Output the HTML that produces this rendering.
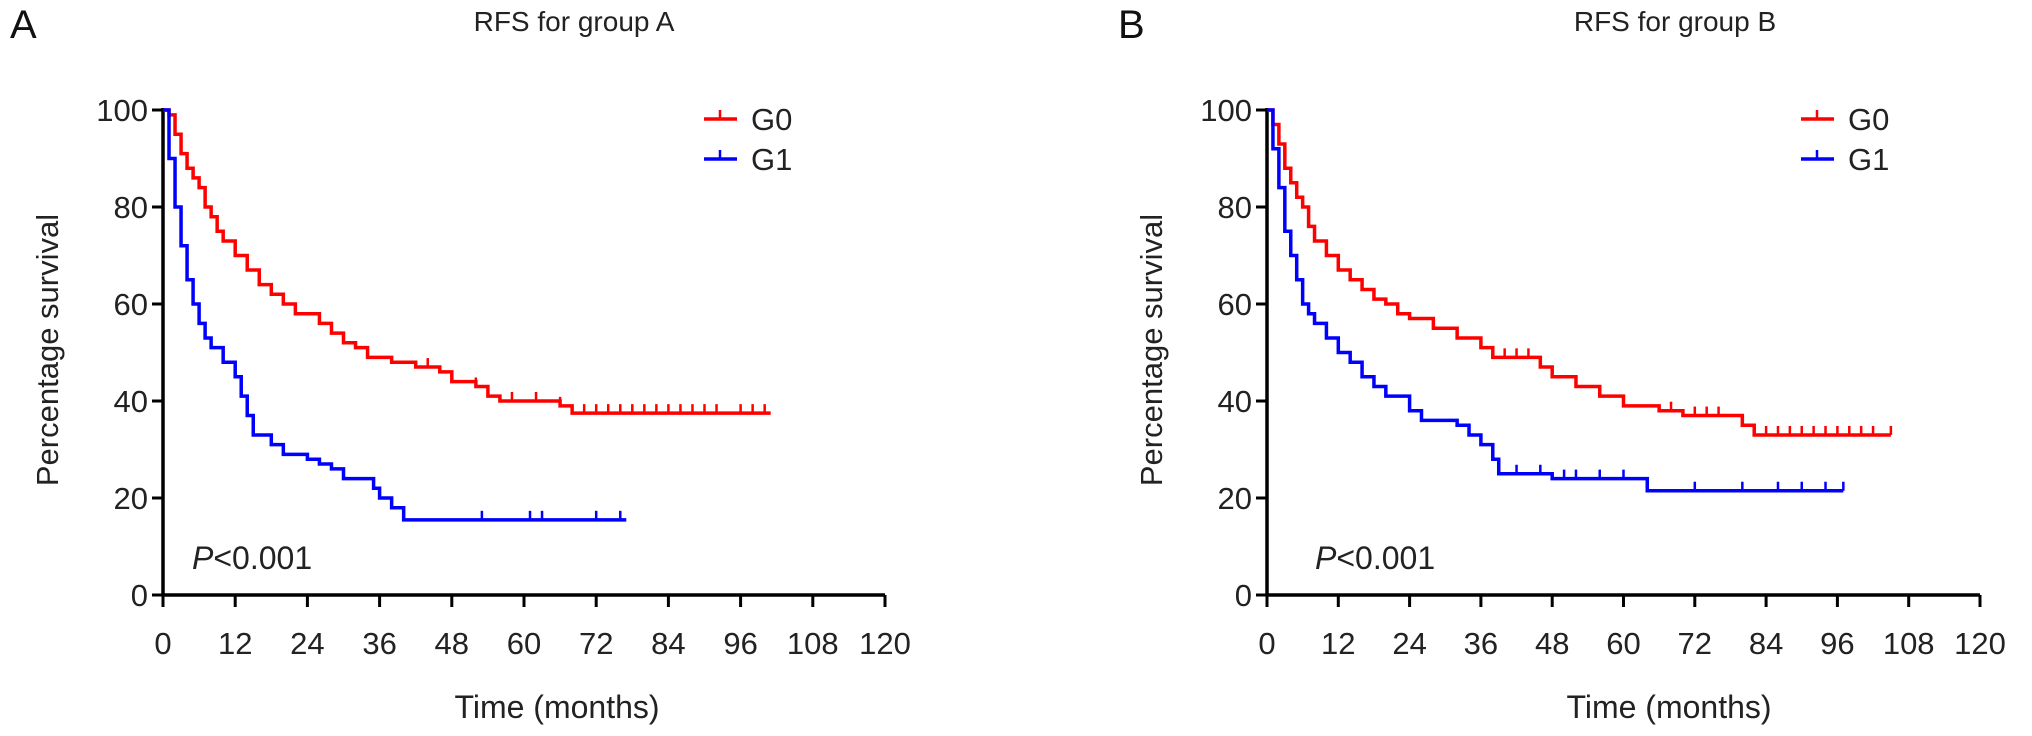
<!DOCTYPE html>
<html><head><meta charset="utf-8"><style>
html,body{margin:0;padding:0;background:#fff;}
svg{display:block;font-family:"Liberation Sans",Arial,sans-serif;}
</style></head><body>
<svg id="fig" width="2032" height="736" viewBox="0 0 2032 736" xmlns="http://www.w3.org/2000/svg"></svg>
<script>
const xTicks=[0,12,24,36,48,60,72,84,96,108,120];
const yTicks=[0,20,40,60,80,100];
const aG0t=[0,1,2,3,4,5,6,7,8,9,10,12,14,16,18,20,22,24,26,28,30,32,34,36,38,42,46,48,52,54,56,62,66,68,101];
const aG0s=[100,99,95,91,88,86,84,80,78,75,73,70,67,64,62,60,58,58,56,54,52,51,49,49,48,47,46,44,43,41,40,40,39,37.5,37.5];
const aG0c=[44,48,52,58,62,66,70,72,74,76,78,80,82,84,86,88,90,92,96,98,100];
const aG1t=[0,1,2,3,4,5,6,7,8,10,12,13,14,15,18,20,24,26,28,30,34,35,36,38,40,77];
const aG1s=[100,90,80,72,65,60,56,53,51,48,45,41,37,33,31,29,28,27,26,24,24,22,20,18,15.5,15.5];
const aG1c=[53,61,63,72,76];
const bG0t=[0,1,2,3,4,5,6,7,8,10,12,14,16,18,20,22,24,28,32,36,38,44,46,48,52,56,60,66,70,78,80,82,105];
const bG0s=[100,97,93,88,85,82,80,76,73,70,67,65,63,61,60,58,57,55,53,51,49,49,47,45,43,41,39,38,37,37,35,33,33];
const bG0c=[40,42,44,68,72,74,76,84,86,88,90,92,94,96,98,100,102,105];
const bG1t=[0,1,2,3,4,5,6,7,8,10,12,14,16,18,20,22,24,26,30,32,34,36,38,39,46,48,62,64,97];
const bG1s=[100,92,84,75,70,65,60,58,56,53,50,48,45,43,41,41,38,36,36,35,33,31,28,25,25,24,24,21.5,21.5];
const bG1c=[42,46,50,52,56,60,72,80,86,90,94,97];

const NS='http://www.w3.org/2000/svg';
const svg=document.getElementById('fig');
function mk(tag,attrs,parent,text){const e=document.createElementNS(NS,tag);for(const k in attrs)e.setAttribute(k,attrs[k]);if(text!==undefined)e.textContent=text;(parent||svg).appendChild(e);return e;}

function panel(key,letter,title,x0,x1,letterX,ylabX,legX,pX,titleX,xtitleX,series){
  const y0=595,y1=110;
  const sx=m=>x0+(x1-x0)*m/120, sy=v=>y0-(y0-y1)*v/100;
  const g=mk('g',{});
  
  
  const L=mk('text',{x:letterX,y:38,'font-size':40,fill:'#111'},g,letter);
  
  
  const T=mk('text',{x:titleX,y:31,'font-size':28,'text-anchor':'middle',fill:'#222'},g,title);
  
  
  const ax=mk('path',{d:`M${x0},${y1-2}V${y0}H${x1}`,stroke:'#000','stroke-width':3.5,fill:'none'},g);
  
  
  yTicks.forEach(v=>{
    const t=mk('line',{x1:x0-11,x2:x0,y1:sy(v),y2:sy(v),stroke:'#000','stroke-width':3},g);
    
    
    const l=mk('text',{x:x0-15,y:sy(v)+11,'font-size':31,'text-anchor':'end',fill:'#222'},g,String(v));
    
    
  });
  xTicks.forEach(m=>{
    const t=mk('line',{x1:sx(m),x2:sx(m),y1:y0,y2:y0+12,stroke:'#000','stroke-width':3},g);
    
    
    const l=mk('text',{x:sx(m),y:654,'font-size':31,'text-anchor':'middle',fill:'#222'},g,String(m));
    
    
  });
  const xl=mk('text',{x:xtitleX,y:718,'font-size':32,'text-anchor':'middle',fill:'#222'},g,'Time (months)');
  
  
  const yl=mk('text',{x:0,y:0,'font-size':31,'text-anchor':'middle',fill:'#222',transform:`translate(${ylabX},350) rotate(-90)`},g,'Percentage survival');
  
  
  const p=mk('text',{x:pX,y:569,'font-size':32,fill:'#222'},g);
  
  
  mk('tspan',{'font-style':'italic'},p,'P');
  mk('tspan',{},p,'<0.001');
  series.forEach((s,i)=>{
    let d=`M${sx(s.t[0])},${sy(s.s[0])}`;
    for(let k=1;k<s.t.length;k++){d+=`H${sx(s.t[k])}V${sy(s.s[k])}`;}
    const path=mk('path',{d:d,stroke:s.c,'stroke-width':3.5,fill:'none'},g);
    
    
    s.cz.forEach(m=>{
      let v=s.s[0];for(let k=0;k<s.t.length;k++){if(s.t[k]<=m)v=s.s[k];}
      const c=mk('line',{x1:sx(m),x2:sx(m),y1:sy(v)-9,y2:sy(v),stroke:s.c,'stroke-width':2.5},g);
      
      
    });
    const ly=119+i*40;
    const lg=mk('g',{},g);
    
    
    mk('line',{x1:legX,x2:legX+33,y1:ly,y2:ly,stroke:s.c,'stroke-width':3.5},lg);
    mk('line',{x1:legX+16,x2:legX+16,y1:ly-9,y2:ly,stroke:s.c,'stroke-width':2.5},lg);
    mk('text',{x:legX+47,y:ly+11,'font-size':31,fill:'#222'},lg,s.n);
  });
}
panel('a','A','RFS for group A',163,885,10,58,704,192,574,557,[
  {n:'G0',c:'#ff0000',t:aG0t,s:aG0s,cz:aG0c},
  {n:'G1',c:'#0000ff',t:aG1t,s:aG1s,cz:aG1c}]);
panel('b','B','RFS for group B',1267,1980,1118,1162,1801,1315,1675,1669,[
  {n:'G0',c:'#ff0000',t:bG0t,s:bG0s,cz:bG0c},
  {n:'G1',c:'#0000ff',t:bG1t,s:bG1s,cz:bG1c}]);
</script>
</body></html>
